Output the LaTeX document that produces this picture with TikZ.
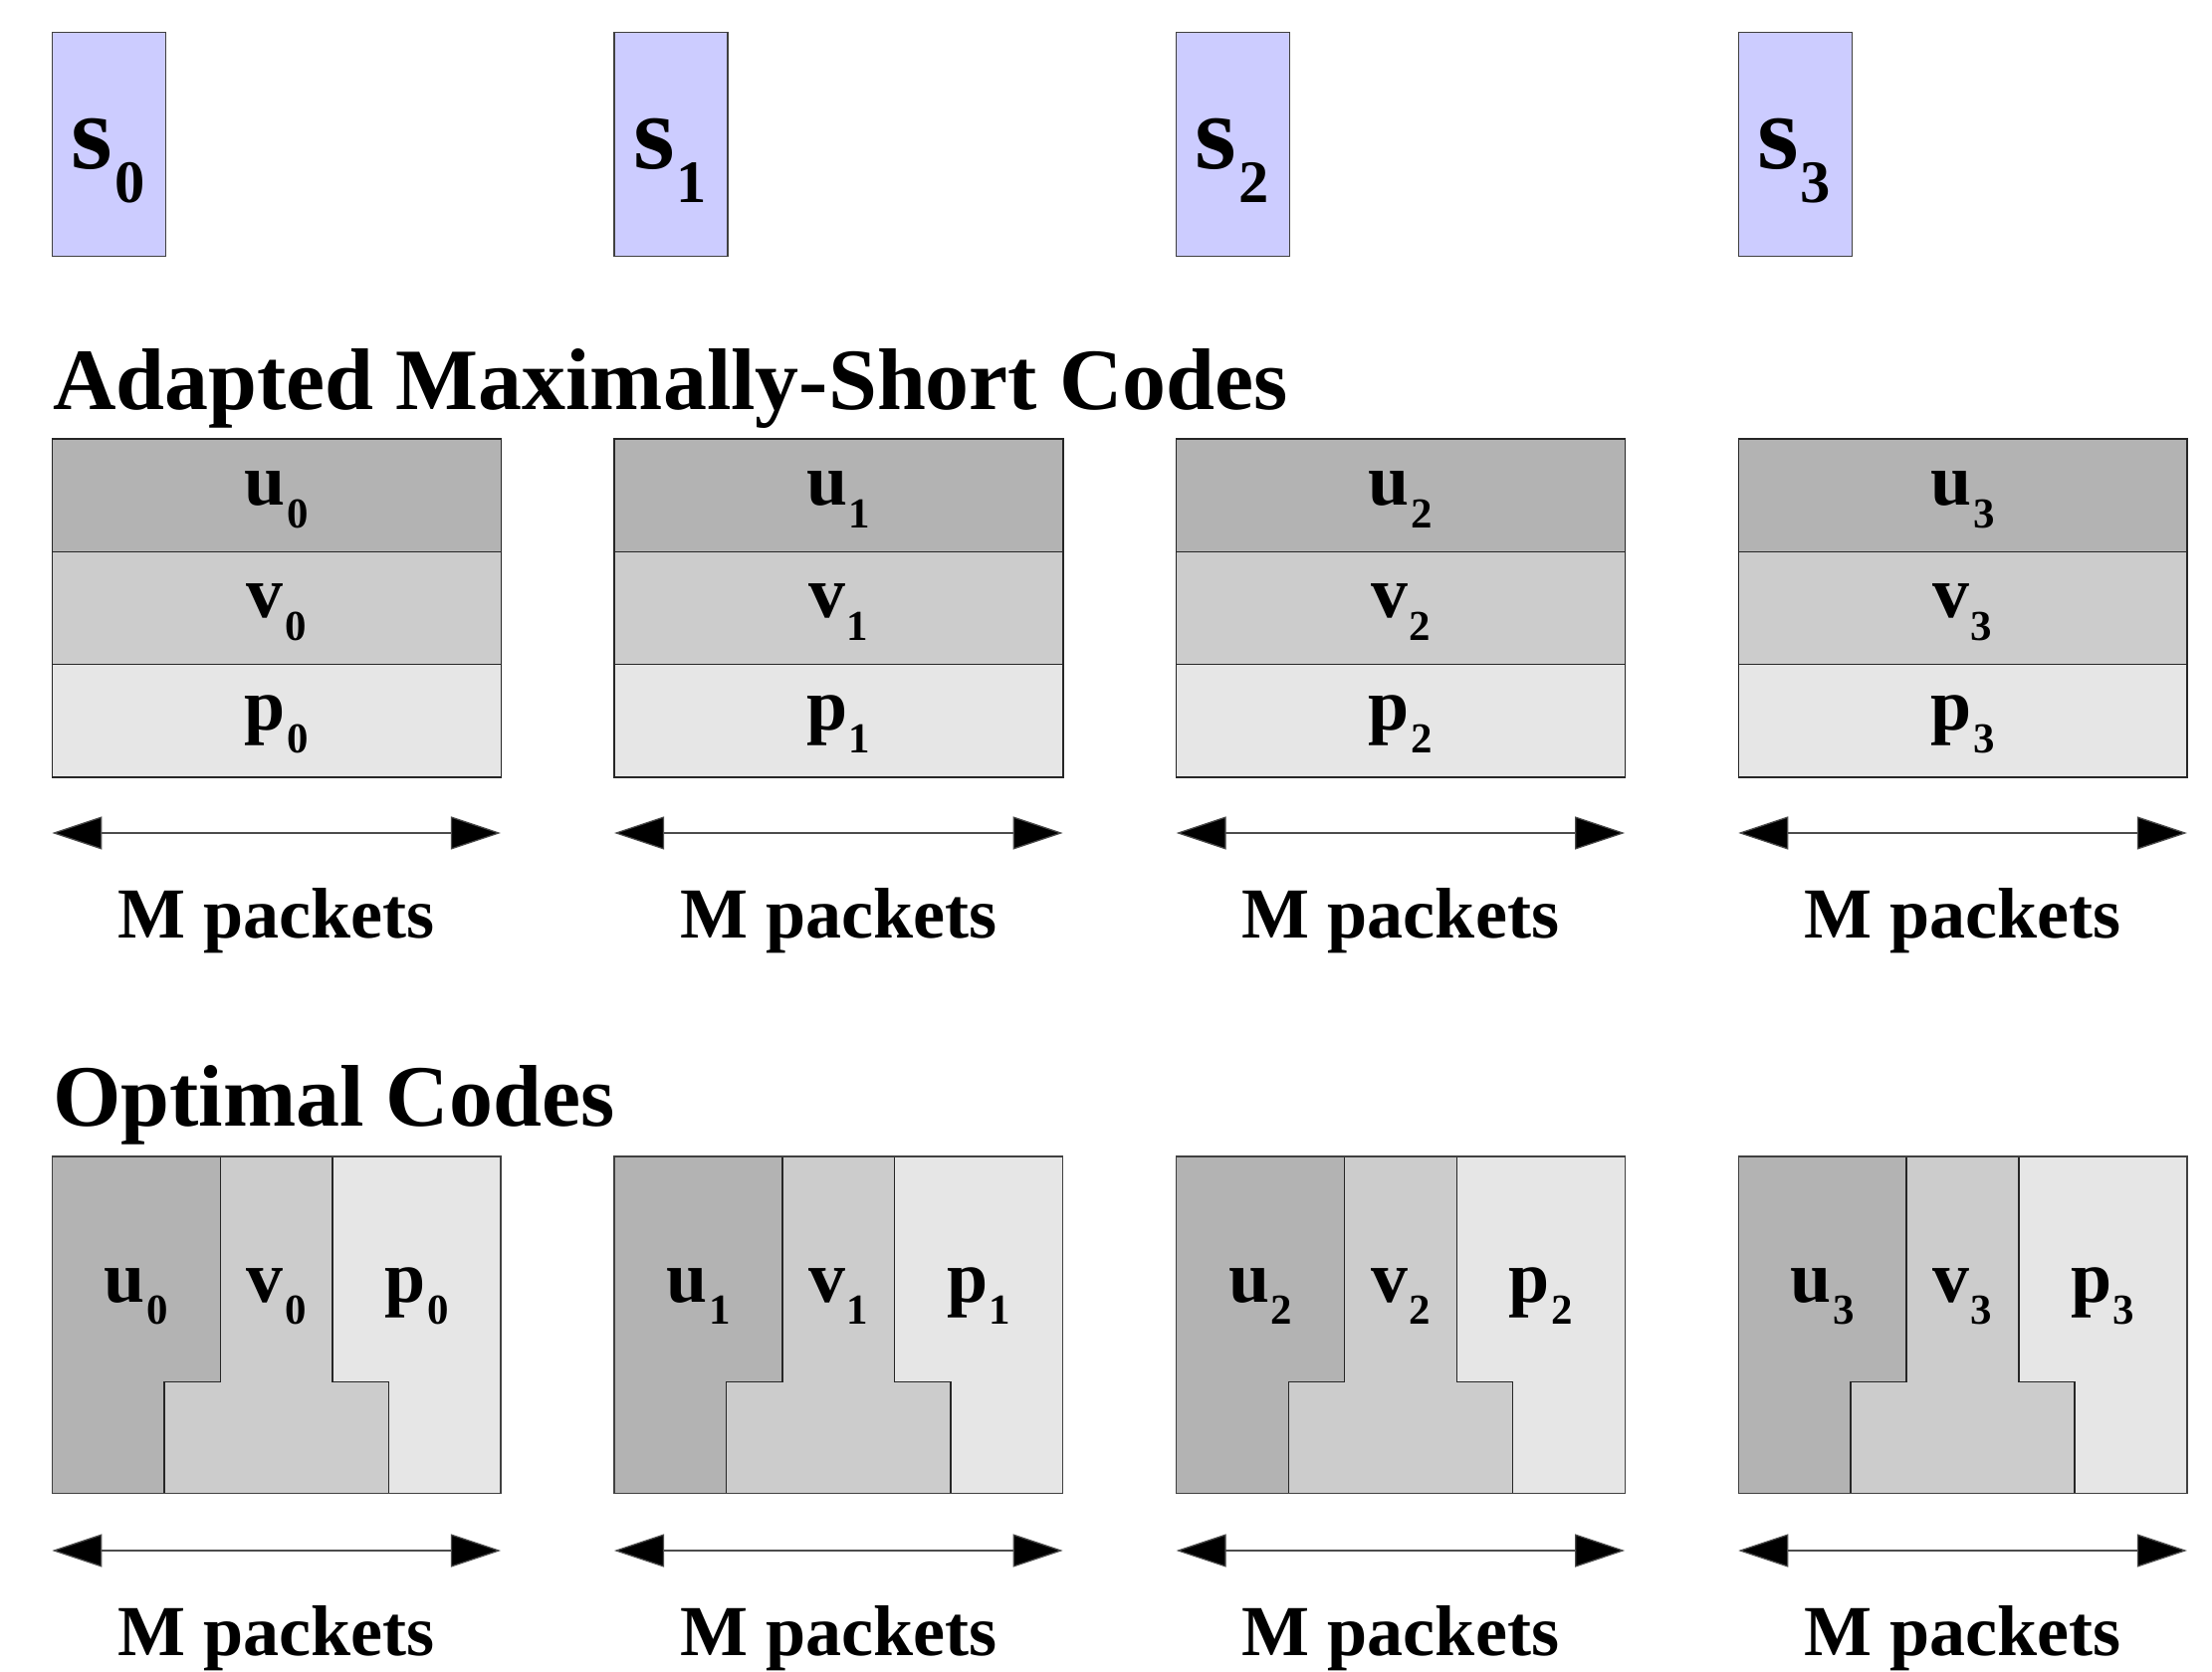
\documentclass[tikz,border=0pt]{standalone}
\usepackage{fontspec}
\setmainfont{Liberation Serif}
\usetikzlibrary{arrows.meta}
\definecolor{ucol}{gray}{0.702}
\definecolor{vcol}{gray}{0.8}
\definecolor{pcol}{gray}{0.902}
\definecolor{scol}{RGB}{204,204,255}
\definecolor{edgecol}{gray}{0.25}
\newcommand{\cellLab}[2]{#1\kern0.4pt\raisebox{-6.5pt}{\fontsize{12.2}{13}\selectfont #2}}
\newcommand{\srcLab}[2]{#1\kern0.6pt\raisebox{-9.4pt}{\fontsize{17.2}{18}\selectfont #2}}
\tikzset{
  srcbox/.style={draw=edgecol, line width=0.4pt, fill=scol, anchor=north west, minimum width=1.14cm, minimum height=2.25cm, inner sep=0pt, outer sep=0pt},
  cell/.style={draw=black!85, line width=0.4pt, anchor=north west, minimum width=4.506cm, minimum height=1.133cm, inner sep=0pt, outer sep=0pt},
  region/.style={draw=black!85, line width=0.4pt},
  celltext/.style={anchor=base, inner sep=0pt, font=\fontsize{21}{22}\selectfont\bfseries},
  srctext/.style={anchor=base, inner sep=0pt, font=\fontsize{30.4}{32}\selectfont\bfseries},
  title/.style={anchor=base west, inner sep=0pt, font=\fontsize{25}{26}\selectfont\bfseries},
  mlabel/.style={anchor=base, inner sep=0pt, font=\fontsize{20.5}{22}\selectfont\bfseries},
  dimline/.style={draw=black!70, line width=0.35pt, {Triangle[length=0.5cm,width=0.33cm,fill=black]}-{Triangle[length=0.5cm,width=0.33cm,fill=black]}}
}
\begin{document}
\begin{tikzpicture}[x=0.01cm,y=-0.01cm]
\useasboundingbox (0,0) rectangle (2222,1680);
% titles
\node[title] (t1) at (52.4,411.7) {Adapted Maximally-Short Codes};
\node[title] (t2) at (52.4,1131) {Optimal Codes};
\foreach \i in {0,...,3}{
  \pgfmathsetmacro{\X}{52.4+564.6*\i}
  \pgfmathsetmacro{\C}{\X+225.3}
  % source boxes
  \node[srcbox] (s\i) at (\X,32.6) {};
  \node[srctext] (sl\i) at (\X+56,170) {\srcLab{s}{\i}};
  % adapted maximally-short code rows
  \node[cell, fill=ucol] (u\i) at (\X,441) {};
  \node[cell, fill=vcol] (v\i) at (\X,554.3) {};
  \node[cell, fill=pcol] (p\i) at (\X,667.6) {};
  \node[celltext] (ul\i) at (\C,507.3) {\cellLab{u}{\i}};
  \node[celltext] (vl\i) at (\C,620.6) {\cellLab{v}{\i}};
  \node[celltext] (pl\i) at (\C,733.9) {\cellLab{p}{\i}};
  % dimension arrow 1
  \coordinate (a\i) at (\X,837);
  \coordinate (b\i) at (\X+450.6,837);
  \draw[dimline] (a\i) -- (b\i);
  \node[mlabel] (m\i) at (\C,942.7) {M packets};
  % optimal codes
  \fill[ucol] (\X,1162) -- (\X+168.9,1162) -- (\X+168.9,1388.7) -- (\X+112.6,1388.7) -- (\X+112.6,1500.7) -- (\X,1500.7) -- cycle;
  \fill[vcol] (\X+168.9,1162) -- (\X+281.6,1162) -- (\X+281.6,1388.7) -- (\X+337.9,1388.7) -- (\X+337.9,1500.7) -- (\X+112.6,1500.7) -- (\X+112.6,1388.7) -- (\X+168.9,1388.7) -- cycle;
  \fill[pcol] (\X+281.6,1162) -- (\X+450.6,1162) -- (\X+450.6,1500.7) -- (\X+337.9,1500.7) -- (\X+337.9,1388.7) -- (\X+281.6,1388.7) -- cycle;
  \draw[region] (\X+168.9,1162) -- (\X+168.9,1388.7) -- (\X+112.6,1388.7) -- (\X+112.6,1500.7);
  \draw[region] (\X+281.6,1162) -- (\X+281.6,1388.7) -- (\X+337.9,1388.7) -- (\X+337.9,1500.7);
  \draw[draw=edgecol, line width=0.4pt] (\X,1162) rectangle (\X+450.6,1500.7);
  \node[celltext] (uo\i) at (\X+84.5,1308) {\cellLab{u}{\i}};
  \node[celltext] (vo\i) at (\C,1308) {\cellLab{v}{\i}};
  \node[celltext] (po\i) at (\X+366.1,1308) {\cellLab{p}{\i}};
  % dimension arrow 2
  \coordinate (c\i) at (\X,1558);
  \coordinate (d\i) at (\X+450.6,1558);
  \draw[dimline] (c\i) -- (d\i);
  \node[mlabel] (n\i) at (\C,1663) {M packets};
}
\end{tikzpicture}
\end{document}
